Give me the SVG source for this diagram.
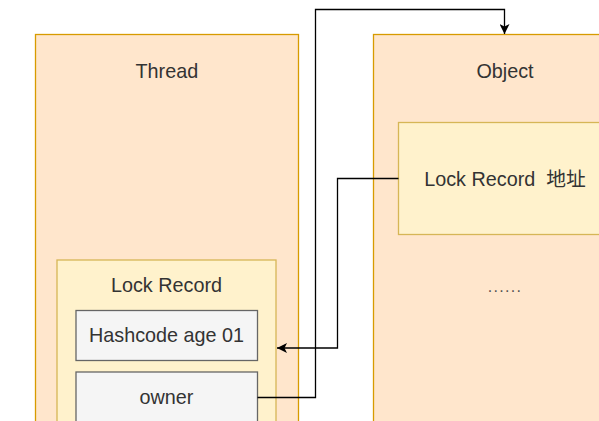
<svg xmlns="http://www.w3.org/2000/svg" width="599" height="421" viewBox="0 0 599 421">
  <defs>
    <style>
      .outer { fill: #FFE6CC; stroke: #D79B00; stroke-width: 1.3; }
      .rec { fill: #FFF2CC; stroke: #D6B656; stroke-width: 1.3; }
      .field { fill: #F5F5F5; stroke: #666666; stroke-width: 1.3; }
      .t { font-family: "Liberation Sans", Arial, "Noto Sans CJK SC", sans-serif; font-size: 19.8px; fill: #333333; text-anchor: middle; white-space: pre; }
      .dots { font-size: 16px; fill: #555555; }
      .conn { fill: none; stroke: #000000; stroke-width: 1.3; }
    </style>
    <marker id="arrow" viewBox="0 0 10 10" refX="10" refY="5" markerWidth="10" markerHeight="10" markerUnits="userSpaceOnUse" orient="auto">
      <path d="M0,0 L10,5 L0,10 L2.5,5 Z" fill="#000000"/>
    </marker>
  </defs>
  <rect width="599" height="421" fill="#ffffff"/>

  <g id="thread">
    <rect class="outer" x="35.5" y="34.5" width="263" height="400"/>
    <text class="t" x="166.8" y="78">Thread</text>
  </g>

  <g id="thread-lock-record">
    <rect class="rec" x="57" y="260" width="219" height="180"/>
    <text class="t" x="166.5" y="291.5">Lock Record</text>
  </g>

  <g id="hashcode">
    <rect class="field" x="76" y="310.5" width="181.5" height="50"/>
    <text class="t" x="166.5" y="341.5">Hashcode age 01</text>
  </g>

  <g id="owner">
    <rect class="field" x="76" y="372" width="181.5" height="60"/>
    <text class="t" x="166.5" y="404">owner</text>
  </g>

  <g id="object">
    <rect class="outer" x="373.5" y="34.5" width="264" height="400"/>
    <text class="t" x="505" y="78">Object</text>
    <text class="t dots" x="505" y="292" letter-spacing="1.3">......</text>
  </g>

  <g id="object-lock-record">
    <rect class="rec" x="398.5" y="122.5" width="214" height="112"/>
    <text class="t" x="505" y="186" xml:space="preserve">Lock Record  地址</text>
  </g>

  <g id="connectors">
    <path class="conn" d="M257.5,397.5 H315.5 V9.5 H504.5 V34" marker-end="url(#arrow)"/>
    <path class="conn" d="M398.5,178.5 H337.5 V348 H277" marker-end="url(#arrow)"/>
  </g>
</svg>
